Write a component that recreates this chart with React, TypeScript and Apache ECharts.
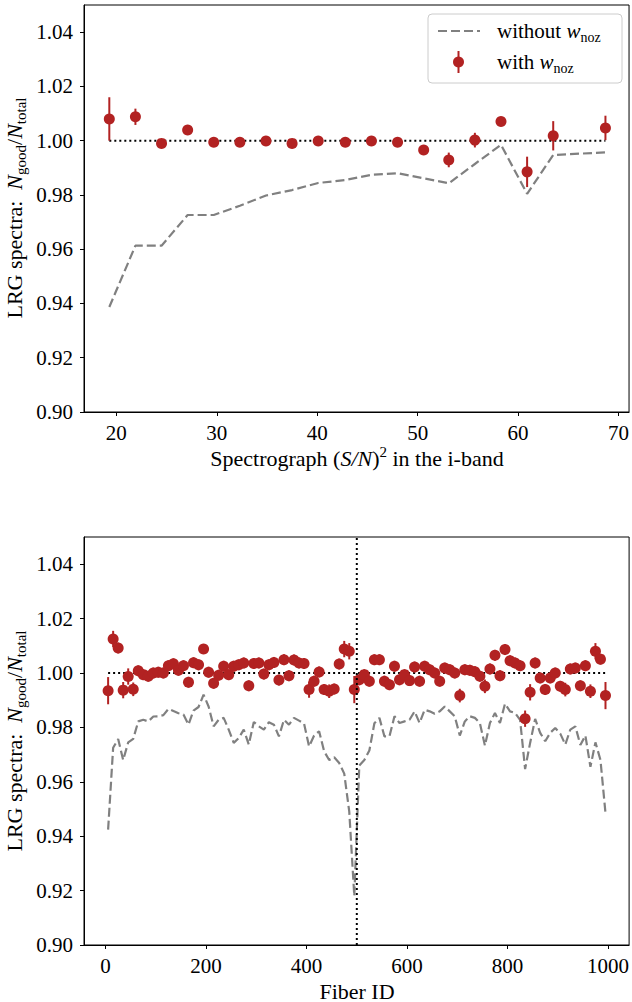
import React, { useEffect, useRef } from "react";
import * as echarts from "echarts";

const FONT = "Liberation Serif";
const RED = "#b22222";
const GRAY = "#808080";

// ---- Top panel: spectrograph (S/N)^2 in the i-band ----
const snrX = [19.3, 21.9, 24.5, 27.1, 29.7, 32.3, 34.9, 37.5, 40.1, 42.8, 45.4, 48.0, 50.6, 53.1, 55.7, 58.3, 60.9, 63.5, 68.7];
const snrWithout = [0.9387, 0.9613, 0.9613, 0.9726, 0.9726, 0.976, 0.9798, 0.9818, 0.9844, 0.9855, 0.9874, 0.988, 0.9861, 0.9843, 0.9914, 0.9985, 0.9804, 0.9947, 0.9957];
const snrWith = [1.008, 1.0088, 0.999, 1.0039, 0.9994, 0.9994, 0.9999, 0.999, 0.9999, 0.9994, 0.9999, 0.9994, 0.9966, 0.9929, 1.0002, 1.0071, 0.9885, 1.0018, 1.0047];
const snrErr = [0.008, 0.003, 0.0008, 0.0008, 0.0006, 0.0006, 0.0006, 0.0006, 0.0006, 0.0006, 0.0006, 0.0006, 0.0008, 0.0027, 0.0027, 0.0008, 0.0056, 0.0054, 0.0045];
const snrTicks = [20, 30, 40, 50, 60, 70];

// ---- Bottom panel: fiber ID ----
const fiberId = [5, 15, 25, 35, 45, 55, 65, 75, 85, 95, 105, 115, 125, 135, 145, 155, 165, 175, 185, 195,
  205, 215, 225, 235, 245, 255, 265, 275, 285, 295, 305, 315, 325, 335, 345, 355, 365, 375, 385, 395,
  405, 415, 425, 435, 445, 455, 465, 475, 485, 495, 505, 515, 525, 535, 545, 555, 565, 575, 585, 595,
  605, 615, 625, 635, 645, 655, 665, 675, 685, 695, 705, 715, 725, 735, 745, 755, 765, 775, 785, 795,
  805, 815, 825, 835, 845, 855, 865, 875, 885, 895, 905, 915, 925, 935, 945, 955, 965, 975, 985, 995];
const fiberWith = [
  0.9935, 1.0125, 1.0092, 0.9937, 0.9987, 0.994, 1.0008, 0.9994, 0.9988, 1.0,
  1.0003, 1.0, 1.0027, 1.0034, 1.001, 1.0027, 0.9966, 1.0038, 1.003, 1.0088,
  1.0003, 0.9962, 0.9992, 1.0025, 0.9994, 1.0025, 1.003, 1.0037, 0.9953, 1.0035,
  1.0037, 0.9996, 1.003, 1.0039, 0.9974, 1.0049, 0.999, 1.0048, 1.0037, 1.0035,
  0.9939, 0.997, 1.0004, 0.9939, 0.9933, 0.9941, 1.0033, 1.0088, 1.008, 0.9939,
  0.9975, 0.9994, 0.997, 1.0049, 1.0049, 0.997, 0.9957, 1.0025, 0.9975, 0.9994,
  0.9972, 1.0022, 0.997, 1.0025, 1.0012, 1.0, 0.997, 1.0018, 1.0012, 1.0,
  0.9917, 1.0012, 1.001, 1.0005, 0.9988, 0.9951, 1.0015, 1.0065, 0.999, 1.0086,
  1.0045, 1.0037, 1.0027, 0.9832, 0.9929, 1.0037, 0.9982, 0.9939, 0.9982, 1.0,
  0.9951, 0.9939, 1.0015, 1.0018, 0.9953, 1.0027, 0.9933, 1.008, 1.0051, 0.9917];
const fiberErr = [
  0.005, 0.003, 0.002, 0.003, 0.003, 0.0025, 0.002, 0.002, 0.002, 0.002,
  0.002, 0.002, 0.002, 0.002, 0.002, 0.002, 0.002, 0.002, 0.002, 0.0015,
  0.002, 0.002, 0.002, 0.002, 0.002, 0.002, 0.002, 0.002, 0.002, 0.002,
  0.002, 0.002, 0.002, 0.002, 0.002, 0.002, 0.002, 0.002, 0.002, 0.002,
  0.003, 0.002, 0.002, 0.002, 0.0025, 0.002, 0.002, 0.003, 0.003, 0.005,
  0.002, 0.002, 0.002, 0.002, 0.002, 0.002, 0.002, 0.002, 0.002, 0.002,
  0.002, 0.002, 0.002, 0.002, 0.002, 0.002, 0.002, 0.002, 0.002, 0.002,
  0.0025, 0.002, 0.002, 0.002, 0.002, 0.0025, 0.002, 0.002, 0.002, 0.002,
  0.002, 0.002, 0.002, 0.003, 0.003, 0.002, 0.002, 0.002, 0.002, 0.002,
  0.002, 0.0025, 0.002, 0.002, 0.002, 0.002, 0.0025, 0.003, 0.002, 0.005];
const fiberWithout = [
  0.9424, 0.9725, 0.9757, 0.968, 0.9745, 0.9758, 0.9822, 0.9828, 0.9822, 0.984,
  0.9841, 0.9845, 0.9868, 0.986, 0.9852, 0.9847, 0.981, 0.9862, 0.9875, 0.992,
  0.9877, 0.9804, 0.9828, 0.9835, 0.9792, 0.9743, 0.9761, 0.9792, 0.9737, 0.982,
  0.9804, 0.9792, 0.9819, 0.981, 0.9767, 0.9828, 0.981, 0.9835, 0.9825, 0.9814,
  0.973, 0.977, 0.9786, 0.9712, 0.968, 0.969, 0.9669, 0.963, 0.949, 0.918,
  0.966, 0.968, 0.9715, 0.9815, 0.9835, 0.9767, 0.9767, 0.9841, 0.9816, 0.9822,
  0.9828, 0.9859, 0.9816, 0.9865, 0.9859, 0.985, 0.9859, 0.9877, 0.9859, 0.9841,
  0.977, 0.9822, 0.9841, 0.9835, 0.9816, 0.9733, 0.9816, 0.9853, 0.9816, 0.9887,
  0.9859, 0.9853, 0.9828, 0.9647, 0.9743, 0.9831, 0.978, 0.9749, 0.978, 0.9798,
  0.9777, 0.9737, 0.9792, 0.9804, 0.9735, 0.977, 0.9655, 0.9745, 0.968, 0.9485];
const fiberTicks = [0, 200, 400, 600, 800, 1000];
const fiberSplit = 500;

const yTicks = [0.9, 0.92, 0.94, 0.96, 0.98, 1.0, 1.02, 1.04];

const tickRich = { t: { fontFamily: FONT, fontSize: 21, color: "#000" } };

function xAxisFor(grid: number, min: number, max: number, ticks: number[]) {
  return {
    gridIndex: grid, type: "value", min, max,
    axisLine: { onZero: false, lineStyle: { color: "#000", width: 1 } },
    axisTick: { inside: false, length: 4, lineStyle: { color: "#000", width: 1 }, customValues: ticks },
    axisLabel: {
      fontFamily: FONT, fontSize: 21, color: "#000", margin: 10, customValues: ticks,
      formatter: (v: number) => "{t|" + String(Math.round(v)) + "}", rich: tickRich,
    },
    splitLine: { show: false },
  };
}
function yAxisFor(grid: number) {
  return {
    gridIndex: grid, type: "value", min: 0.9, max: 1.05,
    axisLine: { onZero: false, lineStyle: { color: "#000", width: 1 } },
    axisTick: { inside: false, length: 4, lineStyle: { color: "#000", width: 1 }, customValues: yTicks },
    axisLabel: {
      fontFamily: FONT, fontSize: 21, color: "#000", margin: 11, customValues: yTicks,
      formatter: (v: number) => "{t|" + v.toFixed(2) + "}", rich: tickRich,
    },
    splitLine: { show: false },
  };
}

function errRender(params: any, api: any) {
  const x = api.value(0), y = api.value(1), e = api.value(2);
  const p = api.coord([x, y]);
  const lo = api.coord([x, y - e]);
  const hi = api.coord([x, y + e]);
  return {
    type: "group",
    children: [
      { type: "line", shape: { x1: p[0], y1: lo[1], x2: p[0], y2: hi[1] }, style: { stroke: RED, lineWidth: 2 } },
      { type: "circle", shape: { cx: p[0], cy: p[1], r: 5.5 }, style: { fill: RED } },
    ],
  };
}

const rich = {
  n: { fontFamily: FONT, fontSize: 21, color: "#000", verticalAlign: "bottom", padding: [0, 0, 3, 0] },
  i: { fontFamily: FONT, fontSize: 21, fontStyle: "italic", color: "#000", verticalAlign: "bottom", padding: [0, 0, 3, 0] },
  s: { fontFamily: FONT, fontSize: 14, color: "#000", verticalAlign: "bottom" },
};
const richTitle = {
  n: { fontFamily: FONT, fontSize: 22, color: "#000", verticalAlign: "bottom", padding: [0, 0, 3, 0] },
  i: { fontFamily: FONT, fontSize: 22, fontStyle: "italic", color: "#000", verticalAlign: "bottom", padding: [0, 0, 3, 0] },
  s: { fontFamily: FONT, fontSize: 15, color: "#000", verticalAlign: "bottom" },
};
const richSup = {
  n: { fontFamily: FONT, fontSize: 22, color: "#000", verticalAlign: "bottom", padding: [3, 0, 0, 0] },
  i: { fontFamily: FONT, fontSize: 22, fontStyle: "italic", color: "#000", verticalAlign: "bottom", padding: [3, 0, 0, 0] },
  p: { fontFamily: FONT, fontSize: 15, color: "#000", verticalAlign: "top" },
};

function buildOption() {
  const top = { left: 84, top: 5, width: 547, height: 407 };
  const bot = { left: 84, top: 537, width: 547, height: 408 };
  const yTitle = "{n|LRG spectra:  }{i|N}{s|good}{n|/}{i|N}{s|total}";
  return {
    animation: false,
    backgroundColor: "#fff",
    textStyle: { fontFamily: FONT },
    grid: [
      { ...top, show: true, borderColor: "#000", borderWidth: 1, backgroundColor: "transparent" },
      { ...bot, show: true, borderColor: "#000", borderWidth: 1, backgroundColor: "transparent" },
    ],
    xAxis: [xAxisFor(0, 16.78, 71.05, snrTicks), xAxisFor(1, -43, 1042, fiberTicks)],
    yAxis: [yAxisFor(0), yAxisFor(1)],
    series: [
      {
        type: "line", xAxisIndex: 0, yAxisIndex: 0, symbol: "none", silent: true, z: 2,
        data: snrX.map((x, i) => [x, snrWithout[i]]),
        lineStyle: { color: GRAY, width: 2.2, type: [9, 4] },
      },
      {
        type: "line", xAxisIndex: 0, yAxisIndex: 0, symbol: "none", silent: true, z: 3,
        data: [[snrX[0], 1], [snrX[snrX.length - 1], 1]],
        lineStyle: { color: "#000", width: 2, type: [2, 3] },
      },
      {
        type: "custom", xAxisIndex: 0, yAxisIndex: 0, z: 4, clip: true, silent: true,
        renderItem: errRender, encode: { x: 0, y: 1 },
        data: snrX.map((x, i) => [x, snrWith[i], snrErr[i]]),
      },
      {
        type: "line", xAxisIndex: 1, yAxisIndex: 1, symbol: "none", silent: true, z: 2,
        data: fiberId.map((x, i) => [x, fiberWithout[i]]),
        lineStyle: { color: GRAY, width: 2.2, type: [9, 4] },
      },
      {
        type: "line", xAxisIndex: 1, yAxisIndex: 1, symbol: "none", silent: true, z: 3,
        data: [[fiberId[0], 1], [fiberId[fiberId.length - 1], 1]],
        lineStyle: { color: "#000", width: 2, type: [2, 3] },
      },
      {
        type: "custom", xAxisIndex: 1, yAxisIndex: 1, z: 4, clip: true, silent: true,
        renderItem: errRender, encode: { x: 0, y: 1 },
        data: fiberId.map((x, i) => [x, fiberWith[i], fiberErr[i]]),
      },
      {
        type: "line", xAxisIndex: 1, yAxisIndex: 1, symbol: "none", silent: true, z: 5,
        data: [[fiberSplit, 0.9], [fiberSplit, 1.05]],
        lineStyle: { color: "#000", width: 2, type: [2, 3] },
      },
    ],
    graphic: [
      // axis titles
      {
        type: "text", x: 16, y: 208, rotation: Math.PI / 2,
        style: { text: yTitle, rich: richTitle, align: "center", verticalAlign: "middle" },
      },
      {
        type: "text", x: 16, y: 741, rotation: Math.PI / 2,
        style: { text: yTitle, rich: richTitle, align: "center", verticalAlign: "middle" },
      },
      {
        type: "text", x: 357, y: 457,
        style: { text: "{n|Spectrograph (}{i|S/N}{n|)}{p|2}{n| in the i-band}", rich: richSup, align: "center", verticalAlign: "middle" },
      },
      {
        type: "text", x: 357, y: 991,
        style: { text: "Fiber ID", fontFamily: FONT, fontSize: 22, fill: "#000", align: "center", verticalAlign: "middle" },
      },
      // legend
      {
        type: "rect", shape: { x: 428, y: 14, width: 194, height: 69, r: 4 },
        style: { fill: "rgba(255,255,255,0.8)", stroke: "#cccccc", lineWidth: 1 }, z: 10,
      },
      {
        type: "line", shape: { x1: 438, y1: 31, x2: 480, y2: 31 },
        style: { stroke: GRAY, lineWidth: 2.2, lineDash: [9, 4] }, z: 11,
      },
      {
        type: "line", shape: { x1: 458.5, y1: 51, x2: 458.5, y2: 73 },
        style: { stroke: RED, lineWidth: 2 }, z: 11,
      },
      {
        type: "circle", shape: { cx: 458.5, cy: 62, r: 5.5 },
        style: { fill: RED }, z: 11,
      },
      {
        type: "text", x: 497, y: 32, z: 11,
        style: { text: "{n|without }{i|w}{s|noz}", rich, align: "left", verticalAlign: "middle" },
      },
      {
        type: "text", x: 497, y: 63, z: 11,
        style: { text: "{n|with }{i|w}{s|noz}", rich, align: "left", verticalAlign: "middle" },
      },
    ],
  };
}

export default function App() {
  const ref = useRef<HTMLDivElement>(null);
  useEffect(() => {
    if (!ref.current) return;
    const chart = echarts.init(ref.current, null, { renderer: "svg" });
    chart.setOption(buildOption() as any);
    return () => chart.dispose();
  }, []);
  return (
    <div
      ref={ref}
      style={{ position: "absolute", left: 0, top: 0, width: 632, height: 1002, background: "#fff" }}
    />
  );
}
